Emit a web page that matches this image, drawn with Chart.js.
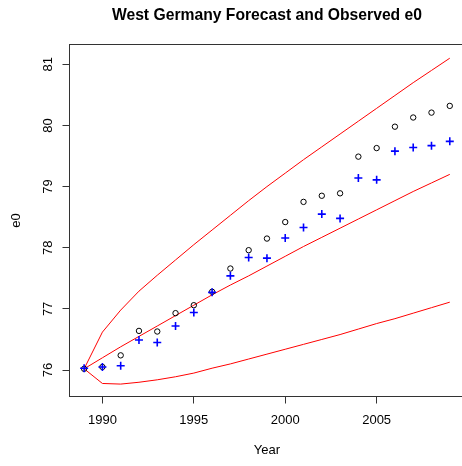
<!DOCTYPE html>
<html>
<head>
<meta charset="utf-8">
<script src="https://cdn.jsdelivr.net/npm/chart.js@4"></script>
<style>
  html, body { margin: 0; padding: 0; background: #fff; overflow: hidden; }
  canvas { display: block; }
</style>
</head>
<body>
<canvas id="e0Chart" width="470" height="466"></canvas>
<script>
// Years and values
const years = [1989, 1990, 1991, 1992, 1993, 1994, 1995, 1996, 1997, 1998, 1999,
               2000, 2001, 2002, 2003, 2004, 2005, 2006, 2007, 2008, 2009];

// Observed e0 (black circles)
const observed = [76.02, 76.05, 76.24, 76.64, 76.63, 76.93, 77.06, 77.28, 77.66, 77.96, 78.15,
                  78.42, 78.75, 78.85, 78.89, 79.49, 79.63, 79.98, 80.13, 80.21, 80.32];

// Forecast e0 (blue crosses)
const forecast = [76.03, 76.05, 76.07, 76.49, 76.45, 76.72, 76.94, 77.27, 77.54, 77.84, 77.83,
                  78.16, 78.33, 78.55, 78.48, 79.14, 79.11, 79.58, 79.64, 79.67, 79.74];

// Forecast interval (red lines)
const upper = [76.02, 76.62, 76.98, 77.29, 77.55, 77.80, 78.05, 78.29, 78.53, 78.77, 79.00,
               79.22, 79.44, 79.65, 79.86, 80.07, 80.28, 80.49, 80.70, 80.90, 81.10];
const median = [76.02, 76.20, 76.38, 76.55, 76.72, 76.89, 77.06, 77.23, 77.39, 77.54, 77.70,
                77.86, 78.02, 78.17, 78.32, 78.47, 78.62, 78.77, 78.92, 79.06, 79.20];
const lower = [76.02, 75.78, 75.77, 75.80, 75.84, 75.89, 75.95, 76.03, 76.10, 76.18, 76.26,
               76.34, 76.42, 76.50, 76.58, 76.67, 76.76, 76.84, 76.93, 77.02, 77.11];

// Tick labels
const xTicks = [1990, 1995, 2000, 2005];
const yTicks = [76, 77, 78, 79, 80, 81];

const FONT = '"Liberation Sans", Arial, sans-serif';

function toPoints(values) {
    return years.map((yr, i) => ({ x: yr, y: values[i] }));
}

function redLine(values) {
    return {
        type: 'line',
        data: toPoints(values),
        borderColor: '#ff0000',
        borderWidth: 1,
        pointRadius: 0,
        fill: false,
        tension: 0,
        order: 3
    };
}

// Draw the frame around the plot and the title centred over it
const frameAndTitle = {
    id: 'frameAndTitle',
    afterDraw(chart) {
        const { ctx, chartArea: a } = chart;
        ctx.save();
        ctx.strokeStyle = '#333';
        ctx.lineWidth = 1;
        ctx.strokeRect(a.left, a.top, a.right - a.left, a.bottom - a.top);
        ctx.fillStyle = '#000';
        ctx.font = 'bold 15.7px ' + FONT;
        ctx.textAlign = 'center';
        ctx.textBaseline = 'middle';
        ctx.fillText('West Germany Forecast and Observed e0', (a.left + a.right) / 2, 16);
        ctx.restore();
    }
};

const ctx = document.getElementById('e0Chart');

new Chart(ctx, {
    type: 'scatter',
    data: {
        datasets: [
            {
                data: toPoints(observed),
                pointStyle: 'circle',
                pointRadius: 2.7,
                borderColor: '#000',
                backgroundColor: 'rgba(0,0,0,0)',
                borderWidth: 1,
                order: 2
            },
            {
                data: toPoints(forecast),
                pointStyle: 'cross',
                pointRadius: 4,
                borderColor: '#0000ff',
                borderWidth: 1.6,
                order: 1
            },
            redLine(upper),
            redLine(median),
            redLine(lower)
        ]
    },
    options: {
        responsive: false,
        animation: false,
        layout: { padding: { top: 44.5, right: 1.2, left: 0, bottom: 0 } },
        plugins: {
            legend: { display: false },
            tooltip: { enabled: false }
        },
        scales: {
            x: {
                type: 'linear',
                min: 1988.2,
                max: 2009.8,
                afterBuildTicks: scale => { scale.ticks = xTicks.map(v => ({ value: v })); },
                afterFit: scale => { scale.height = 69.5; },
                grid: { drawOnChartArea: false, color: '#333', tickLength: 7 },
                border: { display: true, color: '#333' },
                ticks: {
                    color: '#000',
                    font: { family: FONT, size: 13 },
                    padding: 9,
                    maxRotation: 0,
                    callback: v => String(v)
                },
                title: {
                    display: true,
                    text: 'Year',
                    color: '#000',
                    font: { family: FONT, size: 13 },
                    padding: { top: 0, bottom: 7.5 }
                }
            },
            y: {
                type: 'linear',
                min: 75.567,
                max: 81.324,
                afterBuildTicks: scale => { scale.ticks = yTicks.map(v => ({ value: v })); },
                afterFit: scale => { scale.width = 69.5; },
                grid: { drawOnChartArea: false, color: '#333', tickLength: 7 },
                border: { display: true, color: '#333' },
                ticks: {
                    color: '#000',
                    font: { family: FONT, size: 13 },
                    padding: 7,
                    minRotation: 90,
                    maxRotation: 90,
                    crossAlign: 'center',
                    callback: v => String(v)
                },
                title: {
                    display: true,
                    text: 'e0',
                    color: '#000',
                    font: { family: FONT, size: 13 },
                    padding: { top: 9, bottom: 0 }
                }
            }
        }
    },
    plugins: [frameAndTitle]
});
</script>
</body>
</html>
